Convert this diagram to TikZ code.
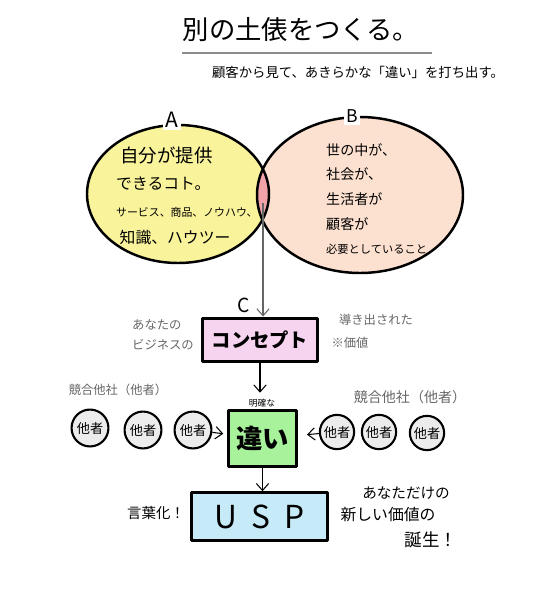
\documentclass[tikz,border=0pt]{standalone}
\usepackage{fontspec}
\setmainfont{Noto Sans CJK JP}
\usetikzlibrary{arrows.meta}
\definecolor{lemon}{HTML}{F9F39B}
\definecolor{peach}{HTML}{FCE0D0}
\definecolor{rose}{HTML}{F2A3AA}
\definecolor{orchid}{HTML}{F6D3EE}
\definecolor{mint}{HTML}{A8F29C}
\definecolor{sky}{HTML}{C6EAF7}
\definecolor{pebble}{HTML}{ECECEC}
\newcommand{\jpsize}[1]{\fontsize{#1}{#1}\selectfont}

\begin{document}
\begin{tikzpicture}[x=0.02cm, y=-0.02cm,
    ink/.style={line width=1.4pt, line cap=round, line join=round},
    board/.style={draw, ink, line width=1.7pt, inner sep=0pt},
    rival/.style={circle, draw, ink, line width=1.2pt, fill=pebble, minimum size=21pt,
                  inner sep=0pt, font=\jpsize{7.5}},
    memo/.style={text=black!60, font=\jpsize{7}},
    flow/.style={-{Straight Barb[length=4pt,width=7pt]}, line width=0.6pt},
    tag/.style={fill=white, inner sep=1.5pt}]

  \useasboundingbox (0,0) rectangle (539,595);

  \node (title) at (301,30) {\jpsize{15}別の土俵をつくる。};
  \coordinate (ruleL) at (182,53);
  \coordinate (ruleR) at (432,53);
  \draw[black!45, line width=0.6pt] (ruleL) -- (ruleR);
  \node (sub) at (358,72) {\jpsize{7.6}顧客から見て、あきらかな「違い」を打ち出す。};

  \fill[lemon] (178,194) ellipse [x radius=91, y radius=69];
  \fill[peach] (360,195) ellipse [x radius=103, y radius=78];
  \begin{scope}
    \clip (178,194) ellipse [x radius=91, y radius=69];
    \fill[rose] (360,195) ellipse [x radius=103, y radius=78];
  \end{scope}
  \draw[ink] (178,194) ellipse [x radius=91, y radius=69];
  \draw[ink] (360,195) ellipse [x radius=103, y radius=78];
  \node[tag, font=\jpsize{12}] (labA) at (172,120) {A};
  \node[tag, font=\jpsize{10}] (labB) at (352,116) {B};

  \node[anchor=west, align=left, font=\fontsize{9}{15.5}\selectfont] (textA) at (110,196)
    {{\fontsize{10.5}{15.5}\selectfont\ 自分が提供}\\
     できるコト。\\
     {\fontsize{6.2}{15.5}\selectfont サービス、商品、ノウハウ、}\\
     \ 知識、ハウツー};
  \node[anchor=west, align=left, font=\fontsize{8}{14}\selectfont] (textB) at (320,199)
    {世の中が、\\社会が、\\生活者が\\顧客が\\
     {\fontsize{6.4}{14}\selectfont 必要としていること}};

  \coordinate (lens) at (263,203);
  \node[board, fill=orchid, minimum width=65pt, minimum height=25pt,
        font=\jpsize{11}\bfseries] (concept) at (260,340) {コンセプト};
  \node[font=\jpsize{11}] (labC) at (244,305) {C};
  \node[memo, anchor=west, align=left, font=\fontsize{7}{11.5}\selectfont] (biz) at (126,335)
    {あなたの\\ビジネスの};
  \node[memo] (derived) at (376,320) {導き出された};
  \node[memo] (worth) at (350,343) {※価値};

  \node[font=\jpsize{5}] (clear) at (262,403) {明確な};
  \node[board, fill=mint, minimum width=39pt, minimum height=32pt,
        font=\jpsize{15}\bfseries] (diff) at (262.5,438.5) {違い};

  \node[memo] (rivalsL) at (118,390) {競合他社（他者）};
  \node[memo, font=\jpsize{8}] (rivalsR) at (410,397) {競合他社（他者）};
  \node[rival] (r1) at (90,428) {他者};
  \node[rival] (r2) at (143,430) {他者};
  \node[rival] (r3) at (193,430) {他者};
  \node[rival, minimum size=19.5pt] (r4) at (337,432) {他者};
  \node[rival, minimum size=19.5pt] (r5) at (379,432) {他者};
  \node[rival, minimum size=19.5pt] (r6) at (427,433) {他者};

  \node[board, fill=sky, minimum width=77pt, minimum height=27pt,
        font=\jpsize{18}] (usp) at (259.5,516.5) {U\hspace{0.45em}S\hspace{0.45em}P};
  \node[font=\jpsize{8.2}] (wording) at (156,513) {言葉化！};
  \node[font=\jpsize{8.3}] (only) at (406,493) {あなただけの};
  \node[font=\jpsize{9}] (newval) at (388,515) {新しい価値の};
  \node[font=\jpsize{10}] (birth) at (431,540) {誕生！};

  \draw[flow, black!60] (lens) -- (lens |- concept.north);
  \draw[flow] (concept.south) -- (concept.south |- clear.north);
  \draw[flow, shorten >=2pt] (r3) -- (diff);
  \draw[flow, shorten >=5pt] (r4) -- (diff);
  \draw[flow] (diff.south) -- (diff.south |- usp.north);
\end{tikzpicture}
\end{document}
